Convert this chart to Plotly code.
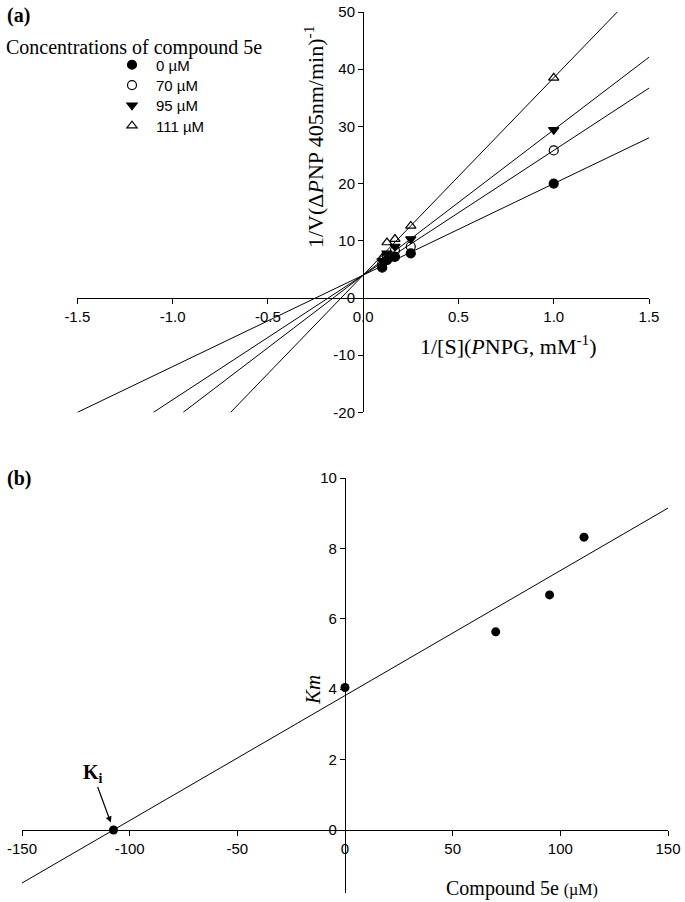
import plotly.graph_objects as go

W, H = 685, 902

# ---------------- Panel (a): Lineweaver-Burk data ----------------
inv_s = [0.1, 0.125, 0.167, 0.25, 1.0]
conc_labels = ["0 µM", "70 µM", "95 µM", "111 µM"]
inv_v_0 = [5.3, 6.6, 7.2, 7.8, 20.0]
inv_v_70 = [6.0, 7.3, 8.3, 9.0, 25.8]
inv_v_95 = [6.5, 7.8, 9.0, 10.3, 29.4]
inv_v_111 = [7.0, 9.7, 10.3, 12.6, 38.5]
fit_slopes = [16.0, 21.8, 25.4, 34.5]
fit_intercepts = [4.0, 4.0, 4.0, 4.0]
a_xticks = [-1.5, -1.0, -0.5, 0.0, 0.5, 1.0, 1.5]
a_xticktext = ["-1.5", "-1.0", "-0.5", "0.0", "0.5", "1.0", "1.5"]
a_yticks = [-20, -10, 0, 10, 20, 30, 40, 50]
a_yticktext = ["-20", "-10", "0", "10", "20", "30", "40", "50"]

# ---------------- Panel (b): Km replot ----------------
compound_conc = [0, 70, 95, 111]
km_values = [4.05, 5.63, 6.68, 8.32]
ki_value = -107.5
km_fit_slope = 0.0355
km_fit_intercept = 3.82
b_xticks = [-150, -100, -50, 0, 50, 100, 150]
b_xticktext = ["-150", "-100", "-50", "0", "50", "100", "150"]
b_yticks = [0, 2, 4, 6, 8, 10]
b_yticktext = ["0", "2", "4", "6", "8", "10"]

SERIF = "Liberation Serif"
SANS = "Liberation Sans"

a_xr = [-1.5, 1.5]
a_yr = [-20, 50]
b_xr = [-150, 150]
b_yr = [-1.8, 10]

xa_dom = [77.3 / W, 649.0 / W]
ya_dom = [1 - 412.4 / H, 1 - 12.0 / H]
xb_dom = [22.0 / W, 668.0 / W]
yb_dom = [1 - 893.4 / H, 1 - 478.0 / H]


def frac(v, r, dom):
    return dom[0] + (v - r[0]) / (r[1] - r[0]) * (dom[1] - dom[0])


fig = go.Figure()

series = [inv_v_0, inv_v_70, inv_v_95, inv_v_111]
symbols = ["circle", "circle-open", "triangle-down", "triangle-up-open"]
legend_ids = ["legend", "legend2", "legend3", "legend4"]
legend_rows_px = [65, 85.3, 105.6, 125.9]

# fit lines for panel a (clipped to the axis box)
for m, b in zip(fit_slopes, fit_intercepts):
    x0 = max(a_xr[0], (a_yr[0] - b) / m)
    x1 = min(a_xr[1], (a_yr[1] - b) / m)
    fig.add_trace(go.Scatter(x=[x0, x1], y=[m * x0 + b, m * x1 + b], mode="lines",
                             line=dict(color="black", width=1), showlegend=False,
                             hoverinfo="skip", xaxis="x", yaxis="y"))

for lab, vals, sym, lg in zip(conc_labels, series, symbols, legend_ids):
    fig.add_trace(go.Scatter(x=inv_s, y=vals, mode="markers", name=lab, legend=lg,
                             marker=dict(symbol=sym, size=9, color="black",
                                         line=dict(color="black", width=1.2)),
                             xaxis="x", yaxis="y"))

# panel b line and points
bx = [b_xr[0], b_xr[1]]
fig.add_trace(go.Scatter(x=bx, y=[km_fit_slope * v + km_fit_intercept for v in bx],
                         mode="lines", line=dict(color="black", width=1),
                         showlegend=False, xaxis="x2", yaxis="y2"))
fig.add_trace(go.Scatter(x=compound_conc + [ki_value], y=km_values + [0], mode="markers",
                         marker=dict(symbol="circle", size=9, color="black"),
                         showlegend=False, xaxis="x2", yaxis="y2"))

axis_common = dict(showgrid=False, zeroline=False, showline=True, linecolor="black",
                   linewidth=1.2, ticks="outside", ticklen=5, tickwidth=1,
                   tickcolor="black", tickfont=dict(family=SANS, size=15, color="black"),
                   anchor="free")

legend_layout = {}
for lg, ypx in zip(legend_ids, legend_rows_px):
    legend_layout[lg] = dict(x=108 / W, y=1 - ypx / H, xanchor="left", yanchor="middle",
                             font=dict(family=SANS, size=15, color="black"),
                             bgcolor="rgba(0,0,0,0)", itemwidth=38)

fig.update_layout(
    width=W, height=H,
    margin=dict(l=0, r=0, t=0, b=0, autoexpand=False),
    paper_bgcolor="white", plot_bgcolor="white",
    xaxis=dict(axis_common, domain=xa_dom, range=a_xr, tickvals=a_xticks,
               ticktext=a_xticktext, position=frac(0, a_yr, ya_dom)),
    yaxis=dict(axis_common, domain=ya_dom, range=a_yr, tickvals=a_yticks,
               ticktext=a_yticktext, position=frac(0, a_xr, xa_dom)),
    xaxis2=dict(axis_common, domain=xb_dom, range=b_xr, tickvals=b_xticks,
                ticktext=b_xticktext, position=frac(0, b_yr, yb_dom)),
    yaxis2=dict(axis_common, domain=yb_dom, range=b_yr, tickvals=b_yticks,
                ticktext=b_yticktext, position=frac(0, b_xr, xb_dom)),
    showlegend=True,
    **legend_layout,
)


def ann(text, x, y, size=19, angle=0, xanchor="center"):
    fig.add_annotation(text=text, x=x / W, y=1 - y / H, xref="paper", yref="paper",
                       showarrow=False, textangle=angle, xanchor=xanchor, yanchor="middle",
                       font=dict(family=SERIF, size=size, color="black"))


ann("<b>(a)</b>", 5, 16, size=20, xanchor="left")
ann("<b>(b)</b>", 5, 479, size=20, xanchor="left")
ann("Concentrations of compound 5e", 4, 47, size=20, xanchor="left")
ann("1/V(Δ<i>P</i>NP 405nm/min)<sup>-1</sup>", 314, 137, size=22, angle=-90)
ann("1/[S](<i>P</i>NPG, mM<sup>-1</sup>)", 508, 345, size=22)
ann("<i>Km</i>", 313, 690, size=21, angle=-90)
ann("Compound 5e <span style='font-size:16px'>(µM)</span>", 522, 888, size=20)

fig.add_annotation(text="<b>K<sub>i</sub></b>", x=ki_value, y=0, xref="x2", yref="y2",
                   ax=-21, ay=-57, showarrow=True, arrowhead=2, arrowsize=1,
                   arrowwidth=1.2, arrowcolor="black", standoff=8,
                   font=dict(family=SERIF, size=20, color="black"))

fig.write_html("out.html", config={"displayModeBar": False},
               post_script="document.body.style.margin='0';document.body.style.overflow='hidden';")
